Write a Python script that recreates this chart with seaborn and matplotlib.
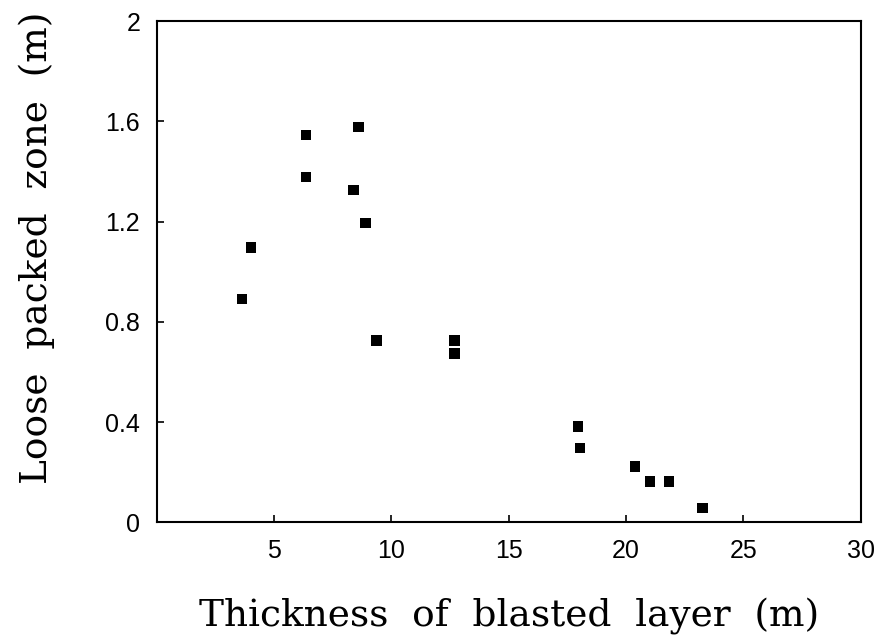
import numpy as np
import pandas as pd
import matplotlib
matplotlib.use("Agg")
import matplotlib.pyplot as plt
import seaborn as sns

# thickness of blasted layer (m) vs loose packed zone (m)
thickness = [3.63, 4.02, 6.37, 6.37, 8.38, 8.59, 8.89, 9.36, 12.69, 12.69,
             17.95, 18.03, 20.38, 21.03, 21.84, 23.25]
loose_zone = [0.892, 1.096, 1.546, 1.378, 1.327, 1.578, 1.195, 0.725, 0.725, 0.673,
              0.382, 0.295, 0.223, 0.163, 0.163, 0.056]
x_ticks = [5, 10, 15, 20, 25, 30]
y_ticks = [0, 0.4, 0.8, 1.2, 1.6, 2]
y_tick_labels = ['0', '0.4', '0.8', '1.2', '1.6', '2']

df = pd.DataFrame({'thickness': thickness, 'loose': loose_zone})

sns.set_style('ticks')
plt.rcParams['font.family'] = ['Liberation Sans', 'DejaVu Sans']
plt.rcParams['text.color'] = 'black'
plt.rcParams['axes.labelcolor'] = 'black'

fig = plt.figure(figsize=(8.81, 6.4), dpi=100)
ax = fig.add_axes([0.178, 0.184, 0.799, 0.783])

sns.scatterplot(data=df, x='thickness', y='loose', marker='s', s=55,
                color='black', edgecolor='none', ax=ax, legend=False)

ax.set_xlim(0, 30)
ax.set_ylim(0, 2)
ax.set_xticks(x_ticks)
ax.set_yticks(y_ticks)
ax.set_yticklabels(y_tick_labels)
ax.tick_params(direction='in', length=5, width=1.2, labelsize=18, pad=12,
               colors='black', labelcolor='black')

for side in ['left', 'right', 'top', 'bottom']:
    ax.spines[side].set_visible(True)
    ax.spines[side].set_linewidth(1.5)
    ax.spines[side].set_color('black')
ax.spines['top'].set_linestyle((0, (8, 1)))
ax.spines['bottom'].set_linestyle((0, (8, 1)))

# the original lettering is widely spaced, hence the doubled spaces
ax.set_xlabel('Thickness  of  blasted  layer  (m)', family='DejaVu Serif',
              fontsize=27, labelpad=25, color='black')
ax.set_ylabel('Loose  packed  zone  (m)', family='DejaVu Serif',
              fontsize=27, color='black')
ax.yaxis.set_label_coords(-0.145, 0.547)

fig.savefig('out.png', dpi=100)
